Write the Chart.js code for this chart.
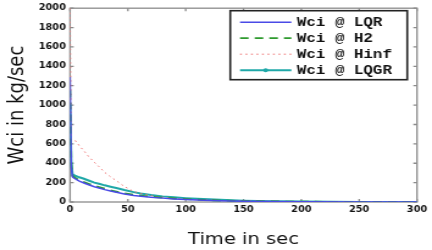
<!DOCTYPE html>
<html>
<head>
<meta charset="utf-8">
<script src="https://cdn.jsdelivr.net/npm/chart.js@4"></script>
<style>
html,body{margin:0;padding:0;background:#fff;}
#c{display:block;width:432px;height:250px;}
</style>
</head>
<body>
<canvas id="c" width="354" height="250" style="width:432px;height:250px;"></canvas>
<script>
// time samples (sec)
const timeSec = [0,1,2,3,5,8,12,16,21,25,30,35,40,47,55,61,70,80,90,100,115,130,150,175,200,250,300];
// Wci series (kg/sec)
const wciLQR  = [1290,360,262,250,235,215,196,178,158,145,128,113,100,82,68,60,49,40,32,26,19,14,9,5,3,1,0];
const wciH2   = [1150,380,272,260,245,225,206,188,168,154,137,121,108,90,75,66,54,44,36,29,21,15,10,6,3,1,0];
const wciHinf = [2000,640,635,633,630,580,528,470,410,365,305,260,220,160,108,88,66,50,38,30,21,15,10,6,3,1,0];
const wciLQGR = [1000,420,291,280,268,255,240,222,200,188,172,158,145,124,102,88,72,58,48,40,30,22,14,8,4,1,0];
const seriesLabels = ['Wci @ LQR','Wci @ H2','Wci @ Hinf','Wci @ LQGR'];
const xTicks = [0,50,100,150,200,250,300];
const yTicks = [0,200,400,600,800,1000,1200,1400,1600,1800,2000];

const pts = arr => arr.map((v,i)=>({x:timeSec[i], y:v}));

const framePlugin = {
  id:'frame',
  beforeDatasetsDraw(chart){
    const {ctx, chartArea:a, scales:{x,y}} = chart;
    ctx.save();
    ctx.strokeStyle = '#8c8c8c';
    ctx.lineWidth = 1.3;
    ctx.strokeRect(a.left, a.top, a.right-a.left, a.bottom-a.top);
    ctx.beginPath();
    x.ticks.forEach(t=>{
      const p = x.getPixelForValue(t.value);
      ctx.moveTo(p,a.bottom); ctx.lineTo(p,a.bottom-3);
      ctx.moveTo(p,a.top); ctx.lineTo(p,a.top+3);
    });
    y.ticks.forEach(t=>{
      const p = y.getPixelForValue(t.value);
      ctx.moveTo(a.left,p); ctx.lineTo(a.left+3,p);
      ctx.moveTo(a.right,p); ctx.lineTo(a.right-3,p);
    });
    ctx.stroke();
    ctx.restore();
  }
};

const legendPlugin = {
  id:'boxLegend',
  afterDraw(chart){
    const {ctx, chartArea:a} = chart;
    const w = 145, h = 69;
    const left = a.right - 8 - w, top = a.top + 2.5;
    ctx.save();
    ctx.fillStyle = '#fff';
    ctx.fillRect(left, top, w, h);
    ctx.strokeStyle = '#222';
    ctx.lineWidth = 1.6;
    ctx.strokeRect(left, top, w, h);
    ctx.font = 'bold 13px "Liberation Mono", "DejaVu Sans Mono", monospace';
    ctx.textBaseline = 'middle';
    ctx.textAlign = 'left';
    chart.data.datasets.forEach((ds,i)=>{
      const yy = top + 11.5 + i*16;
      ctx.save();
      ctx.strokeStyle = ds.borderColor;
      ctx.lineWidth = ds.borderWidth;
      ctx.setLineDash(ds.borderDash || []);
      ctx.beginPath();
      ctx.moveTo(left+8, yy); ctx.lineTo(left+50, yy);
      ctx.stroke();
      if (ds.legendDot){
        ctx.setLineDash([]);
        ctx.fillStyle = ds.borderColor;
        ctx.beginPath(); ctx.arc(left+29, yy, 2, 0, Math.PI*2); ctx.fill();
      }
      ctx.restore();
      ctx.fillStyle = '#111';
      ctx.fillText(ds.label, left+54.5, yy+0.5);
    });
    ctx.restore();
  }
};

new Chart(document.getElementById('c'), {
  type:'line',
  data:{
    datasets:[
      {label:seriesLabels[0], data:pts(wciLQR), borderColor:'#4a4ae6', borderWidth:1.5, pointRadius:0, tension:0},
      {label:seriesLabels[1], data:pts(wciH2), borderColor:'#2e9a2e', borderWidth:1.8, borderDash:[7,5], pointRadius:0, tension:0},
      {label:seriesLabels[2], data:pts(wciHinf), borderColor:'#ee7070', borderWidth:1, borderDash:[1.5,3], pointRadius:0, tension:0},
      {label:seriesLabels[3], data:pts(wciLQGR), borderColor:'#1fa8a8', borderWidth:2, pointRadius:0, tension:0, legendDot:true}
    ]
  },
  options:{
    responsive:false,
    animation:false,
    devicePixelRatio:1,
    layout:{padding:{left:0,right:12.3,top:5,bottom:0}},
    plugins:{legend:{display:false}, tooltip:{enabled:false}},
    scales:{
      x:{
        type:'linear', min:0, max:300,
        afterBuildTicks: s => { s.ticks = xTicks.map(v=>({value:v})); },
        afterFit: s => { s.height = 48; },
        grid:{display:false, drawTicks:false},
        border:{display:false},
        ticks:{padding:3, maxRotation:0, color:'#111', callback: v => String(v), font:{family:'"DejaVu Sans"', weight:'bold', size:8}},
        title:{display:true, text:'Time in sec', color:'#111', padding:{top:0,bottom:1}, font:{family:'"DejaVu Sans"', size:16}}
      },
      y:{
        type:'linear', min:0, max:2000,
        afterBuildTicks: s => { s.ticks = yTicks.map(v=>({value:v})); },
        afterFit: s => { s.width = 57.4; },
        grid:{display:false, drawTicks:false},
        border:{display:false},
        ticks:{padding:3.4, color:'#111', callback: v => String(v), font:{family:'"DejaVu Sans"', weight:'bold', size:8}},
        title:{display:true, text:'Wci in kg/sec', color:'#111', padding:{top:4,bottom:0}, font:{family:'"DejaVu Sans"', size:18}}
      }
    }
  },
  plugins:[framePlugin, legendPlugin]
});
</script>
</body>
</html>
